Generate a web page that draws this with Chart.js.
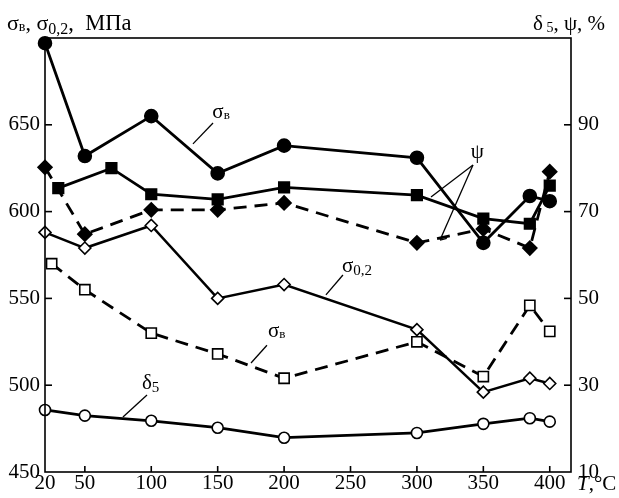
<!DOCTYPE html>
<html>
<head>
<meta charset="utf-8">
<script src="https://cdn.jsdelivr.net/npm/chart.js@4/dist/chart.umd.min.js"></script>
<style>
  html, body { margin: 0; padding: 0; background: #fff; }
  #wrap { width: 619px; height: 498px; }
</style>
</head>
<body>
<div id="wrap"><canvas id="chart" width="619" height="498"></canvas></div>
<script>
// температура, °C
const tempMain = [20, 50, 100, 150, 200, 300, 350, 385, 400];
const tempPsi1 = [30, 70, 100, 150, 200, 300, 350, 385, 400];
const tempSigmaB2 = [25, 50, 100, 150, 200, 300, 350, 385, 400];

// прочность, МПа (левая ось)
const sigmaB1 = [697, 632, 655, 622, 638, 631, 582, 609, 606];
const sigma02 = [588, 579, 592, 550, 558, 532, 496, 504, 501];
const sigmaB2 = [570, 555, 530, 518, 504, 525, 505, 546, 531];

// пластичность, % (правая ось)
const psi1 = [75.4, 80, 74, 72.8, 75.6, 73.8, 68.4, 67.2, 76];
const psi2 = [80.2, 64.8, 70.4, 70.4, 72, 62.8, 66, 61.6, 79.2];
const delta5 = [24.3, 23, 21.8, 20.2, 17.9, 19, 21.1, 22.4, 21.6];

// подписи осей
const xTicks = [20, 50, 100, 150, 200, 250, 300, 350, 400];
const leftTicks = [450, 500, 550, 600, 650];
const rightTicks = [10, 30, 50, 70, 90];

const FONT = "'Liberation Serif', 'DejaVu Serif', serif";

function pts(xs, ys) {
  return xs.map((x, i) => ({ x: x, y: ys[i] }));
}

function serie(xs, ys, axis, style, filled, radius, dashed, width) {
  return {
    data: pts(xs, ys),
    yAxisID: axis,
    borderColor: '#000',
    borderWidth: width || 2.8,
    borderDash: dashed ? [13, 8] : [],
    pointStyle: style,
    pointRadius: radius,
    pointHoverRadius: radius,
    pointBackgroundColor: filled ? '#000' : '#fff',
    pointBorderColor: '#000',
    pointBorderWidth: 1.6,
    tension: 0,
    fill: false,
    clip: false
  };
}

// текст с индексами: [текст, размер, сдвиг вниз, курсив]
function runs(ctx, x, y, parts) {
  parts.forEach(p => {
    ctx.font = (p[3] ? 'italic ' : '') + p[1] + 'px ' + FONT;
    ctx.fillText(p[0], x, y + (p[2] || 0));
    x += ctx.measureText(p[0]).width;
  });
}

const annot = {
  id: 'annot',
  afterDraw(chart) {
    const ctx = chart.ctx;
    const a = chart.chartArea;
    const xs = chart.scales.x, yl = chart.scales.yL;
    const X = v => xs.getPixelForValue(v);
    const Y = v => yl.getPixelForValue(v);
    ctx.save();
    ctx.strokeStyle = '#000';
    ctx.fillStyle = '#000';
    ctx.setLineDash([]);

    // рамка
    ctx.lineWidth = 1.6;
    ctx.strokeRect(a.left, a.top, a.right - a.left, a.bottom - a.top);

    // внутренние засечки
    xTicks.slice(1).forEach(v => {
      ctx.beginPath();
      ctx.moveTo(X(v), a.bottom);
      ctx.lineTo(X(v), a.bottom - 6);
      ctx.stroke();
    });
    leftTicks.slice(1).forEach(v => {
      ctx.beginPath();
      ctx.moveTo(a.left, Y(v));
      ctx.lineTo(a.left + 7, Y(v));
      ctx.stroke();
    });
    rightTicks.slice(1).forEach(v => {
      const y = chart.scales.yR.getPixelForValue(v);
      ctx.beginPath();
      ctx.moveTo(a.right, y);
      ctx.lineTo(a.right - 7, y);
      ctx.stroke();
    });

    // выноски
    ctx.lineWidth = 1.3;
    const line = (x1, y1, x2, y2) => {
      ctx.beginPath();
      ctx.moveTo(X(x1), Y(y1));
      ctx.lineTo(X(x2), Y(y2));
      ctx.stroke();
    };
    line(146.5, 651, 131.4, 639);
    line(244.3, 563.5, 231.5, 552);
    line(187.1, 523, 175.1, 512.8);
    line(96.8, 494.4, 78.7, 481.7);
    line(342.2, 626.8, 310.6, 608.4);
    line(342.2, 626.8, 317.4, 583.6);
    line(317.4, 583.6, 322.5, 584.6);

    ctx.textBaseline = 'alphabetic';
    ctx.textAlign = 'left';
    runs(ctx, X(146), Y(654), [['σ', 21], ['в', 13, 1]]);
    runs(ctx, X(243.6), Y(565), [['σ', 21], ['0,2', 15, 3]]);
    runs(ctx, X(187.9), Y(528), [['σ', 21], ['в', 13, 1]]);
    runs(ctx, X(93), Y(498), [['δ', 21], ['5', 15, 3]]);
    runs(ctx, X(340.5), Y(631), [['ψ', 21]]);

    // заголовки осей
    runs(ctx, 7, 30, [['σ', 22], ['в', 14, 1], [', σ', 22], ['0,2', 16, 4], [',  МПа', 22.5]]);
    runs(ctx, 533, 30, [['δ', 21], [' 5', 14, 2], [', ψ, %', 21]]);
    runs(ctx, 577, 490, [['T', 21, 0, true], [',°C', 21]]);
    ctx.restore();
  }
};

new Chart(document.getElementById('chart'), {
  type: 'line',
  data: {
    datasets: [
      serie(tempMain, sigmaB1, 'yL', 'circle', true, 6.5),
      serie(tempPsi1, psi1, 'yR', 'rect', true, 7.5),
      serie(tempMain, psi2, 'yR', 'rectRot', true, 7, true),
      serie(tempMain, sigma02, 'yL', 'rectRot', false, 6, false, 2.5),
      serie(tempSigmaB2, sigmaB2, 'yL', 'rect', false, 7.2, true),
      serie(tempMain, delta5, 'yR', 'circle', false, 5.5)
    ]
  },
  options: {
    responsive: false,
    animation: false,
    events: [],
    layout: { padding: { top: 38, left: 0, right: 0, bottom: 0 } },
    plugins: {
      legend: { display: false },
      tooltip: { enabled: false },
      title: { display: false }
    },
    scales: {
      x: {
        type: 'linear',
        min: 20,
        max: 416,
        afterBuildTicks: s => { s.ticks = xTicks.map(v => ({ value: v })); },
        afterFit: s => { s.height = 26; },
        grid: { display: false, drawTicks: false },
        border: { display: false },
        ticks: {
          padding: -1,
          maxRotation: 0,
          autoSkip: false,
          color: '#000',
          font: { family: FONT, size: 21 }
        }
      },
      yL: {
        position: 'left',
        min: 450,
        max: 700,
        afterBuildTicks: s => { s.ticks = leftTicks.map(v => ({ value: v })); },
        afterFit: s => { s.width = 45; },
        grid: { display: false, drawTicks: false },
        border: { display: false },
        ticks: { padding: 5, color: '#000', font: { family: FONT, size: 21 } }
      },
      yR: {
        position: 'right',
        min: 10,
        max: 110,
        afterBuildTicks: s => { s.ticks = rightTicks.map(v => ({ value: v })); },
        afterFit: s => { s.width = 48; },
        grid: { display: false, drawTicks: false },
        border: { display: false },
        ticks: { padding: 7, color: '#000', font: { family: FONT, size: 21 } }
      }
    }
  },
  plugins: [annot]
});
</script>
</body>
</html>
